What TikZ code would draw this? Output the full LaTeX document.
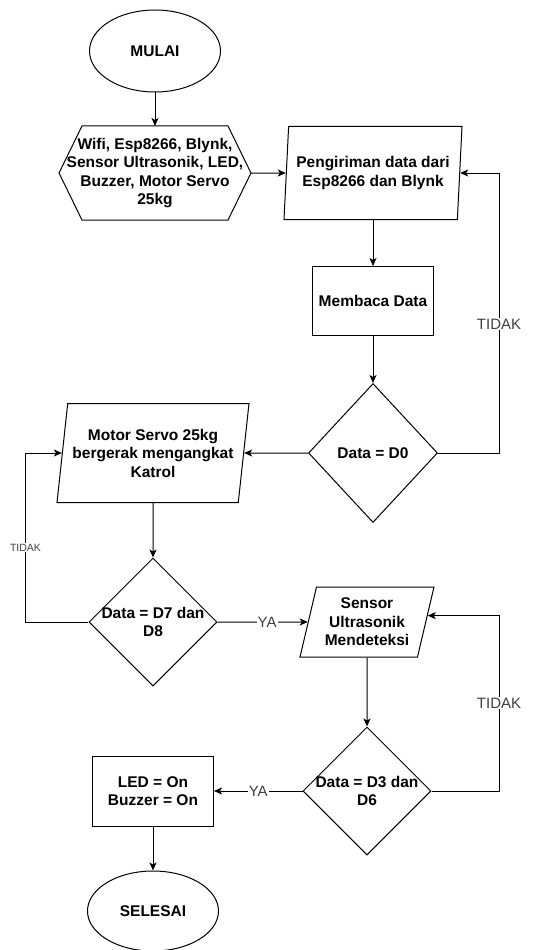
\documentclass[tikz,border=0pt]{standalone}
\usepackage{fontspec}
\setmainfont{Liberation Sans}
\usetikzlibrary{shapes.geometric, positioning, arrows.meta}
\tikzset{
  >={Stealth[length=8pt, width=7pt, inset=2pt]},
  every picture/.style={line width=1pt},
  box/.style={draw, font=\bfseries\fontsize{15.5}{18.5}\selectfont, align=center, inner sep=0pt},
  terminal/.style={box, ellipse, minimum width=131pt, minimum height=82pt},
  process/.style={box, rectangle, minimum width=121pt, minimum height=70pt},
  io/.style={box, trapezium, trapezium stretches body, inner xsep=-12pt},
  decision/.style={box, diamond, inner xsep=-14pt, minimum width=128pt, minimum height=128pt},
  hexbox/.style={font=\bfseries\fontsize{15.5}{18.5}\selectfont, align=center, inner sep=0pt,
    minimum width=191pt, minimum height=93pt},
  answer/.style={fill=white, text=black!75, font=\fontsize{15}{18}\selectfont, inner sep=1pt},
  smallanswer/.style={answer, font=\fontsize{10.5}{12}\selectfont},
}

\begin{document}
\begin{tikzpicture}
      \useasboundingbox (-155pt,51pt) rectangle (384pt,-899pt);

      \node[terminal] (mulai) {MULAI};
      \node[hexbox, node distance=122pt, below of=mulai] (init)
        {Wifi, Esp8266, Blynk,\\Sensor Ultrasonik, LED,\\Buzzer, Motor Servo\\25kg};
      \node[io, trapezium left angle=82, trapezium right angle=98,
        minimum width=178pt, minimum height=93pt,
        node distance=218pt, right of=init] (kirim) {Pengiriman data dari\\Esp8266 dan Blynk};
      \node[process, minimum height=69pt, node distance=128pt, below of=kirim] (baca) {Membaca Data};
      \node[decision, minimum width=129pt, minimum height=139pt,
        node distance=152pt, below of=baca] (d0) {Data = D0};
      \node[io, trapezium left angle=77.5, trapezium right angle=102.5,
        minimum width=192pt, minimum height=99pt,
        node distance=220pt, left of=d0] (servo) {Motor Servo 25kg\\bergerak mengangkat\\Katrol};
      \node[decision, node distance=169pt, below of=servo] (d7) {Data = D7 dan\\D8};
      \node[io, trapezium left angle=71, trapezium right angle=109,
        minimum width=134pt, minimum height=70pt,
        node distance=214pt, right of=d7] (sensor) {Sensor\\Ultrasonik\\Mendeteksi};
      \node[decision, node distance=169pt, below of=sensor] (d3) {Data = D3 dan\\D6};
      \node[process, node distance=214pt, left of=d3] (led) {LED = On\\Buzzer = On};
      \node[terminal, minimum height=80pt, node distance=120pt, below of=led] (selesai) {SELESAI};

      % hexagon round the init node
      \draw (init.west) -- ([xshift=23pt]init.north west) -- ([xshift=-23pt]init.north east)
        -- (init.east) -- ([xshift=-23pt]init.south east) -- ([xshift=23pt]init.south west) -- cycle;

      \draw[->] (mulai) -- (init);
      \draw[->] (init) -- (kirim);
      \draw[->] (kirim) -- (baca);
      \draw[->] (baca) -- (d0);
      \draw[->] (d0) -- (servo);
      \draw[->] (servo) -- (d7);
      \draw[->] (d7) -- node[answer, pos=0.55]{YA} (sensor);
      \draw[->] (sensor) -- (d3);
      \draw[->] (d3) -- node[answer]{YA} (led);
      \draw[->] (led) -- (selesai);

      % loops back
      \draw[->] (d0.east) -- ++(61pt,0) |- node[answer, pos=0.23]{TIDAK} (kirim.east);
      \draw[->] (d7.west) -- ++(-63pt,0) |- node[smallanswer, pos=0.22]{TIDAK} (servo.west);
      \draw[->] (d3.east) -- ++(67.5pt,0) |- node[answer, pos=0.25]{TIDAK} (sensor.6);
    \end{tikzpicture}
\end{document}
